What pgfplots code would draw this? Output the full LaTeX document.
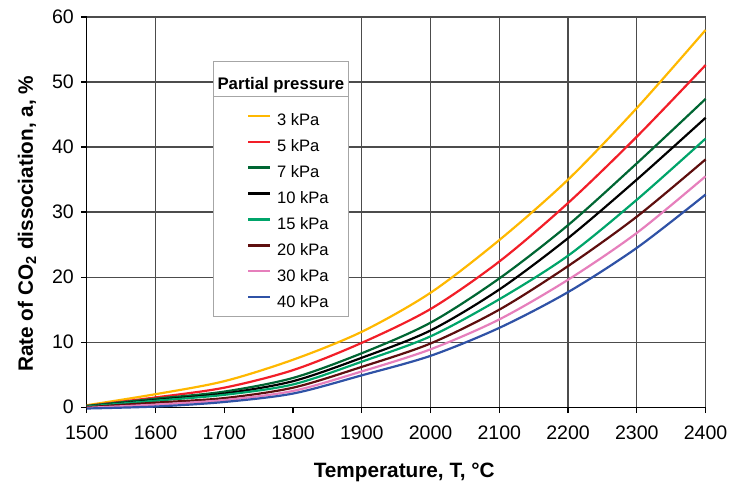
\documentclass[border=0pt]{standalone}
\usepackage{pgfplots}
\pgfplotsset{compat=1.18}
\usepackage{fontspec}
\setmainfont{Liberation Sans}

\definecolor{c3}{HTML}{FFB800}
\definecolor{c5}{HTML}{F21E28}
\definecolor{c7}{HTML}{006633}
\definecolor{c10}{HTML}{000000}
\definecolor{c15}{HTML}{00A46A}
\definecolor{c20}{HTML}{5E0E0E}
\definecolor{c30}{HTML}{E67FBC}
\definecolor{c40}{HTML}{2F52A6}

\begin{document}
\begin{tikzpicture}
\begin{axis}[
  width=310pt, height=195.5pt, scale only axis,
  xmin=1500, xmax=2400, ymin=0, ymax=60,
  clip=false,
  xtick={1500,1600,...,2400},
  ytick={0,10,...,60},
  ymajorgrids=true,
  grid style={black!70, line width=0.6pt},
  axis x line*=bottom, axis y line*=left,
  axis line style={black, line width=0.6pt, -},
  tick align=outside,
  major tick length=3pt,
  tick style={black, line width=0.6pt},
  /pgf/number format/assume math mode=true,
  /pgf/number format/1000 sep={},
  ticklabel style={font=\fontsize{9.8}{11}\selectfont},
  xticklabel style={yshift=-3pt},
  xlabel={Temperature, T, °C},
  ylabel={Rate of CO\textsubscript{2} dissociation, a, \%},
  label style={font=\bfseries\fontsize{10.4}{12}\selectfont},
  xlabel style={at={(axis description cs:0.513,-0.179)}, anchor=base},
  ylabel style={at={(axis description cs:-0.0871,0.47)}, anchor=base},
  legend style={at={(axis cs:1732.3,45.5)}, anchor=north west,
    draw=none, fill=none, inner sep=0pt, row sep=4pt,
    font=\fontsize{8.3}{9}\selectfont,
    nodes={inner sep=0pt, text height=7pt, text depth=2pt},
    /tikz/every odd column/.append style={column sep=3pt}},
  legend cell align=left,
  legend image code/.code={\draw[#1] (0pt,2.5pt) -- (11pt,2.5pt);},
  every axis plot/.append style={line width=1.1pt, smooth, no marks},
]

% vertical grid lines (none at 1700 and 1800 in the original)
\draw[black!70, line width=0.6pt] (axis cs:1600,0) -- (axis cs:1600,60);
\draw[black!70, line width=0.6pt] (axis cs:1900,0) -- (axis cs:1900,60);
\draw[black!70, line width=0.6pt] (axis cs:2000,0) -- (axis cs:2000,60);
\draw[black!70, line width=0.6pt] (axis cs:2100,0) -- (axis cs:2100,60);
\draw[black!70, line width=0.6pt] (axis cs:2200,0) -- (axis cs:2200,60);
\draw[black!70, line width=0.6pt] (axis cs:2300,0) -- (axis cs:2300,60);
\draw[black!70, line width=0.6pt] (axis cs:2400,0) -- (axis cs:2400,60);

\draw[black!35, line width=0.5pt, fill=white] (axis cs:1684.4,14.0) rectangle (axis cs:1880.3,53.1);
\draw[black!35, line width=0.5pt] (axis cs:1684.4,47.7) -- (axis cs:1880.3,47.7);
\node[anchor=base, font=\bfseries\fontsize{8.4}{10}\selectfont] at (axis cs:1782.3,48.8) {Partial pressure};

\addplot[c3] coordinates {(1500,0.3)(1600,2.0)(1700,4.0)(1800,7.3)(1900,11.6)(2000,17.6)(2100,25.7)(2200,35.0)(2300,46.0)(2400,58.0)};
\addplot[c5] coordinates {(1500,0.2)(1600,1.5)(1700,3.0)(1800,5.7)(1900,9.9)(2000,15.1)(2100,22.4)(2200,31.4)(2300,41.6)(2400,52.6)};
\addplot[c7] coordinates {(1500,0.2)(1600,1.3)(1700,2.4)(1800,4.5)(1900,8.3)(2000,13.0)(2100,19.8)(2200,28.0)(2300,37.5)(2400,47.4)};
\addplot[c10] coordinates {(1500,0.1)(1600,1.1)(1700,2.1)(1800,4.0)(1900,7.6)(2000,11.8)(2100,18.1)(2200,26.0)(2300,35.0)(2400,44.5)};
\addplot[c15] coordinates {(1500,0.1)(1600,1.0)(1700,1.9)(1800,3.5)(1900,7.0)(2000,10.9)(2100,16.6)(2200,23.3)(2300,31.9)(2400,41.3)};
\addplot[c20] coordinates {(1500,0.0)(1600,0.7)(1700,1.4)(1800,3.0)(1900,6.2)(2000,9.8)(2100,15.0)(2200,21.7)(2300,29.3)(2400,38.1)};
\addplot[c30] coordinates {(1500,-0.1)(1600,0.4)(1700,1.1)(1800,2.5)(1900,5.5)(2000,8.9)(2100,13.5)(2200,19.6)(2300,26.8)(2400,35.5)};
\addplot[c40] coordinates {(1500,-0.2)(1600,0.1)(1700,0.8)(1800,2.1)(1900,4.9)(2000,7.9)(2100,12.2)(2200,17.7)(2300,24.5)(2400,32.7)};

\legend{3 kPa,5 kPa,7 kPa,10 kPa,15 kPa,20 kPa,30 kPa,40 kPa}
\end{axis}
\path[use as bounding box] ([xshift=-43.5pt, yshift=-41pt]current axis.south west) rectangle ([xshift=13.5pt, yshift=8.5pt]current axis.north east);
\end{tikzpicture}
\end{document}
